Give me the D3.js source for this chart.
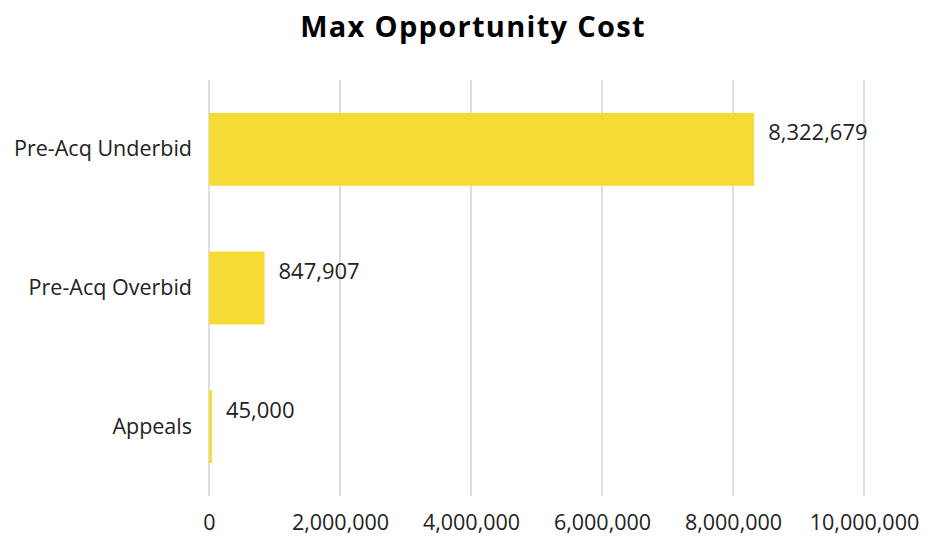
<!DOCTYPE html>
<html><head><meta charset="utf-8">
<script src="https://cdn.jsdelivr.net/npm/d3@7"></script>
<style>body{margin:0;background:#fff}svg{display:block}</style>
</head><body>
<svg id="c" width="927" height="539"></svg>
<script>
const categories = ["Pre-Acq Underbid", "Pre-Acq Overbid", "Appeals"];
const values = [8322679, 847907, 45000];
const xTicks = [0, 2000000, 4000000, 6000000, 8000000, 10000000];
const title = "Max Opportunity Cost";

const svg = d3.select("#c");
const font = "'Open Sans', sans-serif";
const m = {left: 209, right: 63, top: 80, bottom: 43};
const W = 927, H = 539;
const x = d3.scaleLinear().domain([0, 10000000]).range([m.left, W - m.right]);
const y = d3.scaleBand().domain(categories).range([m.top, H - m.bottom]).paddingInner(0.474).paddingOuter(0.237);

svg.append("text").attr("x", 473).attr("y", 37).attr("text-anchor", "middle")
  .attr("font-family", font).attr("font-weight", "bold").attr("font-size", 29)
  .attr("letter-spacing", 1.3).attr("fill", "#000")
  .text(title);

svg.append("g").selectAll("line").data(xTicks).join("line")
  .attr("x1", d => x(d)).attr("x2", d => x(d)).attr("y1", m.top).attr("y2", H - m.bottom)
  .attr("stroke", "#d4d4d4").attr("stroke-width", 1.5);

svg.append("g").selectAll("rect").data(values).join("rect")
  .attr("x", x(0)).attr("y", (d, i) => y(categories[i]))
  .attr("width", d => x(d) - x(0)).attr("height", y.bandwidth())
  .attr("fill", "#F6DB36");

const fmt = d3.format(",");
svg.append("g").selectAll("text").data(values).join("text")
  .attr("x", d => x(d) + 14).attr("y", (d, i) => y(categories[i]) + y.bandwidth() / 2 - 9)
  .attr("font-family", font).attr("font-size", 22).attr("fill", "#222")
  .text(d => fmt(d));

const xAxis = d3.axisBottom(x).tickValues(xTicks).tickFormat(fmt).tickSize(0).tickPadding(0);
const gx = svg.append("g").attr("transform", `translate(0,${H - m.bottom + 19})`).call(xAxis);
gx.select(".domain").remove();
gx.selectAll("text").attr("font-family", font).attr("font-size", 21.5).attr("fill", "#222");

const yAxis = d3.axisLeft(y).tickSize(0).tickPadding(17);
const gy = svg.append("g").attr("transform", `translate(${m.left},0)`).call(yAxis);
gy.select(".domain").remove();
gy.selectAll("text").attr("font-family", font).attr("font-size", 21.5).attr("fill", "#222");
</script>
</body></html>
